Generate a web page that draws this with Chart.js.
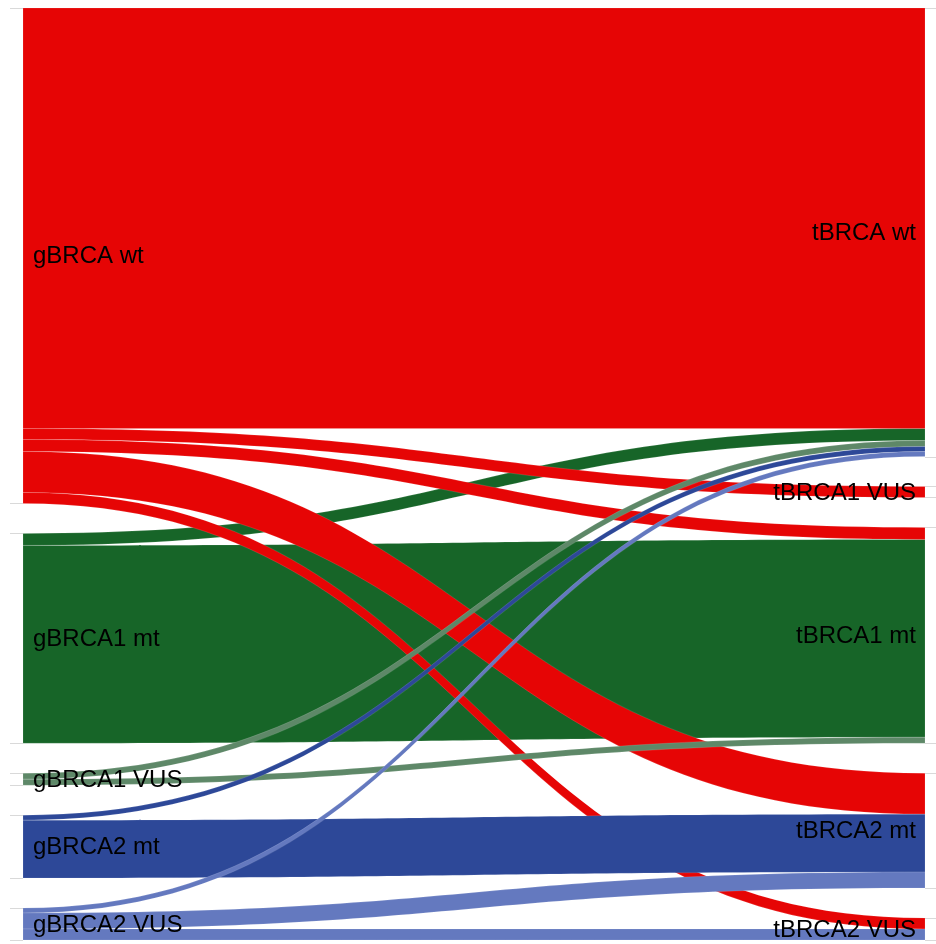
<!DOCTYPE html>
<html>
<head>
<meta charset="utf-8">
<script src="https://cdn.jsdelivr.net/npm/chart.js@4/dist/chart.umd.min.js"></script>
<style>
  html, body { margin: 0; padding: 0; background: #ffffff; }
  #wrap { width: 936px; height: 944px; position: relative; }
</style>
</head>
<body>
<div id="wrap"><canvas id="c"></canvas></div>
<script>
// ---- data ----
const sourceNodes = ['gBRCA wt', 'gBRCA1 mt', 'gBRCA1 VUS', 'gBRCA2 mt', 'gBRCA2 VUS'];
const targetNodes = ['tBRCA wt', 'tBRCA1 VUS', 'tBRCA1 mt', 'tBRCA2 mt', 'tBRCA2 VUS'];
// links (listed in drawing order)
const linkSource = [1, 1, 0, 0, 0, 0, 0, 2, 2, 3, 3, 4, 4, 4];
const linkTarget = [0, 2, 0, 1, 2, 3, 4, 0, 2, 0, 3, 0, 3, 4];
const linkValue  = [12, 198, 421, 11, 12, 41, 11, 6, 6, 5, 58, 5, 16, 11];

// ---- style ----
const sourceColors = ['#e60505', '#176528', '#5e8868', '#2d4898', '#6479bf'];
const NODE_PAD = 30;

// ---- layout in value units ----
function columnLayout(nodeCount, sideIdx) {
  const totals = new Array(nodeCount).fill(0);
  linkValue.forEach((v, i) => { totals[sideIdx[i]] += v; });
  const y0 = []; let off = 0;
  totals.forEach((t) => { y0.push(off); off += t + NODE_PAD; });
  return { totals, y0, extent: off - NODE_PAD };
}
const leftCol = columnLayout(sourceNodes.length, linkSource);
const rightCol = columnLayout(targetNodes.length, linkTarget);
const yMax = Math.max(leftCol.extent, rightCol.extent);

// link stacking: at source sorted by target, at target sorted by source
const linkPos = linkValue.map(() => ({}));
sourceNodes.forEach((n, s) => {
  let off = leftCol.y0[s];
  linkValue.map((v, i) => i).filter(i => linkSource[i] === s)
    .sort((a, b) => linkTarget[a] - linkTarget[b])
    .forEach(i => { linkPos[i].s0 = off; off += linkValue[i]; linkPos[i].s1 = off; });
});
targetNodes.forEach((n, t) => {
  let off = rightCol.y0[t];
  linkValue.map((v, i) => i).filter(i => linkTarget[i] === t)
    .sort((a, b) => linkSource[a] - linkSource[b])
    .forEach(i => { linkPos[i].t0 = off; off += linkValue[i]; linkPos[i].t1 = off; });
});

const sankeyPlugin = {
  id: 'sankeyFlows',
  afterDatasetsDraw(chart) {
    const { ctx, scales } = chart;
    const x = scales.x, y = scales.y;
    const x0 = x.getPixelForValue(0), x1 = x.getPixelForValue(1);
    const xm = (x0 + x1) / 2;
    ctx.save();
    // flows
    linkValue.forEach((v, i) => {
      const p = linkPos[i];
      const a0 = y.getPixelForValue(p.s0), a1 = y.getPixelForValue(p.s1);
      const b0 = y.getPixelForValue(p.t0), b1 = y.getPixelForValue(p.t1);
      ctx.beginPath();
      ctx.moveTo(x0, a0);
      ctx.bezierCurveTo(xm, a0, xm, b0, x1, b0);
      ctx.lineTo(x1, b1);
      ctx.bezierCurveTo(xm, b1, xm, a1, x0, a1);
      ctx.closePath();
      ctx.fillStyle = sourceColors[linkSource[i]];
      ctx.fill();
      ctx.lineWidth = 0.5;
      ctx.strokeStyle = 'rgba(255,255,255,0.25)';
      ctx.stroke();
    });
    // node edges (thin grey ticks outside plot)
    ctx.strokeStyle = '#d9d9d9';
    ctx.lineWidth = 1;
    const drawEdges = (col, xa, xb) => {
      col.totals.forEach((t, k) => {
        [col.y0[k], col.y0[k] + t].forEach(val => {
          const py = Math.round(y.getPixelForValue(val)) + 0.5;
          ctx.beginPath(); ctx.moveTo(xa, py); ctx.lineTo(xb, py); ctx.stroke();
        });
      });
    };
    drawEdges(leftCol, x0 - 13, x0);
    drawEdges(rightCol, x1, x1 + 12);
    // labels
    ctx.fillStyle = '#000000';
    ctx.font = '24px "Liberation Sans", Arial, Helvetica, sans-serif';
    ctx.textBaseline = 'middle';
    ctx.textAlign = 'left';
    sourceNodes.forEach((n, k) => {
      const py = y.getPixelForValue(leftCol.y0[k] + leftCol.totals[k] / 2);
      ctx.fillText(n, x0 + 10, py + 1);
    });
    ctx.textAlign = 'right';
    targetNodes.forEach((n, k) => {
      const py = y.getPixelForValue(rightCol.y0[k] + rightCol.totals[k] / 2);
      ctx.fillText(n, x1 - 9, py + 1);
    });
    ctx.restore();
  }
};

new Chart(document.getElementById('c'), {
  type: 'scatter',
  data: { datasets: [{ data: [], pointRadius: 0 }] },
  options: {
    responsive: true,
    maintainAspectRatio: false,
    animation: false,
    layout: { padding: { left: 23, right: 11, top: 8, bottom: 4 } },
    plugins: { legend: { display: false }, tooltip: { enabled: false } },
    scales: {
      x: { type: 'linear', min: 0, max: 1, display: false },
      y: { type: 'linear', min: 0, max: yMax, reverse: true, display: false }
    }
  },
  plugins: [sankeyPlugin]
});
</script>
</body>
</html>
